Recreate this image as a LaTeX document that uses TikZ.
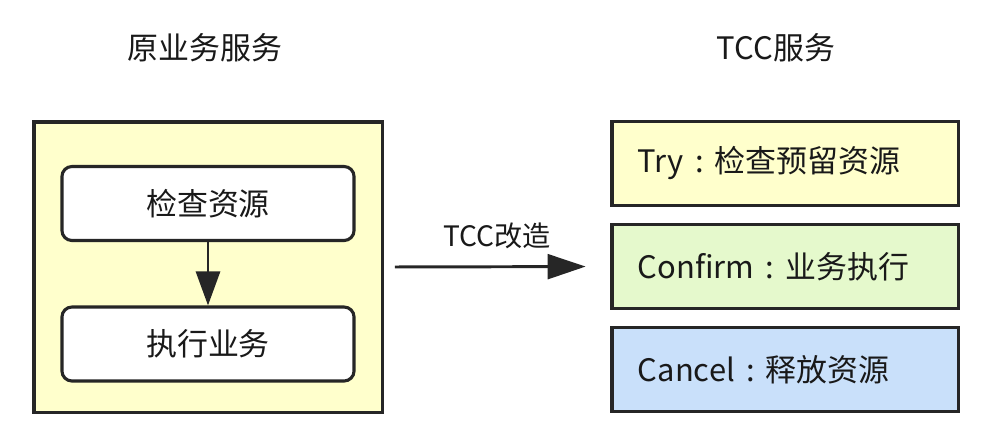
\documentclass[tikz,border=0pt]{standalone}
\usepackage{fontspec}
\newfontfamily\cjk{Noto Sans CJK SC}
\usetikzlibrary{arrows.meta}
\newcommand{\tcccolon}{\makebox[1em]{:}}
\begin{document}
\begin{tikzpicture}[x=0.025cm,y=-0.025cm,
  txt/.style={font=\cjk\fontsize{22}{26}\selectfont,text=black!90},
  outerbox/.style={draw=black!85,line width=2.2pt,inner sep=0pt},
  stepbox/.style={draw=black!85,line width=2.2pt,rounded corners=0.25cm,fill=white,minimum width=7.3cm,minimum height=1.85cm,txt},
  phasebox/.style={draw=black!85,line width=2.2pt,minimum width=8.65cm,minimum height=2.1cm,text width=7.35cm,align=left,inner xsep=0.65cm,txt},
  link/.style={line width=2.1pt,draw=black!85,-{Triangle[length=0.85cm,width=0.6cm]}}]
\definecolor{tccyellow}{HTML}{FFFFCC}
\definecolor{tccgreen}{HTML}{E5F9CC}
\definecolor{tccblue}{HTML}{C9E0FA}
\useasboundingbox (0,0) rectangle (992,437);
\node[txt] (origtitle) at (205,48) {原业务服务};
\node[txt] (tcctitle) at (776,48) {TCC服务};
\node[outerbox,fill=tccyellow,minimum width=8.7cm,minimum height=7.25cm] (orig) at (208,267) {};
\node[stepbox] (check) at (208,203.5) {检查资源};
\node[stepbox] (exec) at (208,344) {执行业务};
\draw[link] (check) -- (exec);
\node[phasebox,fill=tccyellow] (try) at (785,163.5) {Try\tcccolon 检查预留资源};
\node[phasebox,fill=tccgreen] (confirm) at (785,266.5) {Confirm\tcccolon 业务执行};
\node[phasebox,fill=tccblue] (cancel) at (785,369.5) {Cancel\tcccolon 释放资源};
\draw[link,-{Triangle[length=0.95cm,width=0.62cm]},shorten <=0.28cm,shorten >=0.62cm] (orig.east) -- (confirm.west)
  node[midway,above=0.3cm,txt,font=\cjk\fontsize{20}{24}\selectfont] (tcclabel) {TCC改造};
\end{tikzpicture}
\end{document}
